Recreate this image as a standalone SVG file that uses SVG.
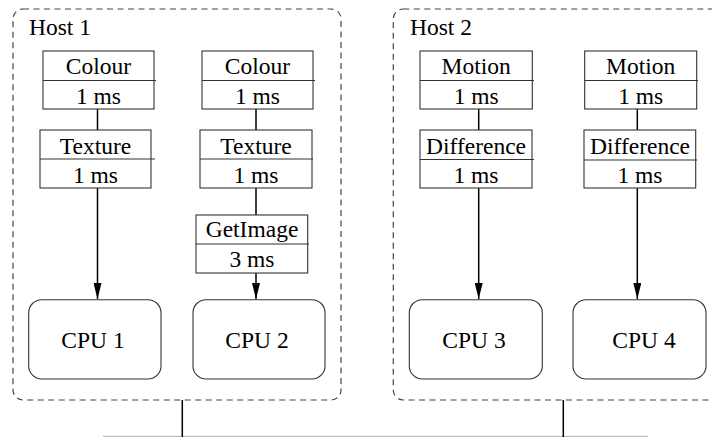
<svg xmlns="http://www.w3.org/2000/svg" width="712" height="437" viewBox="0 0 712 437">
<defs>
<style>
text{font-family:"Liberation Serif","Times New Roman",serif;font-size:23.5px;fill:#000;text-anchor:middle}
.host{fill:none;stroke:#444;stroke-width:1.2;stroke-dasharray:6 4.5}
.box{fill:#fff;stroke:#333;stroke-width:1.1}
.div{stroke:#333;stroke-width:1.1}
.cpu{fill:#fff;stroke:#333;stroke-width:1.1}
.conn{stroke:#000;stroke-width:1.5;fill:none}
.bus{stroke:#bbb;stroke-width:1.5}
</style>
<marker id="arr" markerWidth="16" markerHeight="8" refX="16" refY="4" orient="auto" markerUnits="userSpaceOnUse">
<path d="M0,0 L16,4 L0,8 Z" fill="#000"/>
</marker>
</defs>

<g id="host1">
<rect class="host" x="13" y="9" width="328" height="391" rx="10"/>
<text x="29" y="35" style="text-anchor:start">Host 1</text>
</g>
<g id="host2">
<rect class="host" x="393.3" y="9" width="360" height="391" rx="10"/>
<text x="410" y="35" style="text-anchor:start">Host 2</text>
</g>

<g id="connectors">
<line class="conn" x1="97.5" y1="109" x2="97.5" y2="130"/>
<line class="conn" x1="97.5" y1="188" x2="97.5" y2="299" marker-end="url(#arr)"/>
<line class="conn" x1="256" y1="109" x2="256" y2="130"/>
<line class="conn" x1="256" y1="188" x2="256" y2="215"/>
<line class="conn" x1="256" y1="273" x2="256" y2="299" marker-end="url(#arr)"/>
<line class="conn" x1="478.7" y1="109" x2="478.7" y2="130"/>
<line class="conn" x1="478.7" y1="188" x2="478.7" y2="299" marker-end="url(#arr)"/>
<line class="conn" x1="637.3" y1="109" x2="637.3" y2="130"/>
<line class="conn" x1="637.3" y1="188" x2="637.3" y2="299" marker-end="url(#arr)"/>
<line class="bus" x1="103" y1="436.5" x2="648" y2="436.5"/>
<line class="conn" x1="182.3" y1="400" x2="182.3" y2="437"/>
<line class="conn" x1="563.3" y1="400" x2="563.3" y2="437"/>
</g>

<g id="colour1">
<rect class="box" x="43" y="51" width="111" height="58"/>
<line class="div" x1="43" y1="80.5" x2="156" y2="80.5"/>
<text x="98.5" y="74">Colour</text>
<text x="98.5" y="103.5">1 ms</text>
</g>
<g id="texture1">
<rect class="box" x="40" y="130" width="111" height="58"/>
<line class="div" x1="40" y1="159" x2="155" y2="159"/>
<text x="95.5" y="153.5">Texture</text>
<text x="95.5" y="182.5">1 ms</text>
</g>
<g id="colour2">
<rect class="box" x="202" y="51" width="111" height="58"/>
<line class="div" x1="202" y1="80.5" x2="315" y2="80.5"/>
<text x="257.5" y="74">Colour</text>
<text x="257.5" y="103.5">1 ms</text>
</g>
<g id="texture2">
<rect class="box" x="200" y="130" width="112" height="58"/>
<line class="div" x1="200" y1="159" x2="313" y2="159"/>
<text x="256" y="153.5">Texture</text>
<text x="256" y="182.5">1 ms</text>
</g>
<g id="getimage">
<rect class="box" x="196" y="215" width="111.7" height="58"/>
<line class="div" x1="196" y1="244" x2="309" y2="244"/>
<text x="252" y="237">GetImage</text>
<text x="252" y="267">3 ms</text>
</g>
<g id="motion1">
<rect class="box" x="420" y="51" width="112.3" height="58"/>
<line class="div" x1="420" y1="80.5" x2="534" y2="80.5"/>
<text x="476.2" y="74">Motion</text>
<text x="476.2" y="103.5">1 ms</text>
</g>
<g id="difference1">
<rect class="box" x="420" y="130" width="112" height="58"/>
<line class="div" x1="420" y1="159.5" x2="534" y2="159.5"/>
<text x="476" y="153.5">Difference</text>
<text x="476" y="182.5">1 ms</text>
</g>
<g id="motion2">
<rect class="box" x="584.7" y="51" width="112" height="58"/>
<line class="div" x1="584.7" y1="80.5" x2="698" y2="80.5"/>
<text x="640.7" y="74">Motion</text>
<text x="640.7" y="103.5">1 ms</text>
</g>
<g id="difference2">
<rect class="box" x="584" y="130" width="111.7" height="58"/>
<line class="div" x1="584" y1="160" x2="697" y2="160"/>
<text x="640" y="153.5">Difference</text>
<text x="640" y="182.5">1 ms</text>
</g>

<g id="cpu1">
<rect class="cpu" x="28.7" y="299.7" width="132.3" height="79.3" rx="13"/>
<text x="93" y="347.7">CPU 1</text>
</g>
<g id="cpu2">
<rect class="cpu" x="193" y="299.7" width="132" height="79.3" rx="13"/>
<text x="257" y="347.7">CPU 2</text>
</g>
<g id="cpu3">
<rect class="cpu" x="409.3" y="299.7" width="133" height="79.3" rx="13"/>
<text x="474" y="347.7">CPU 3</text>
</g>
<g id="cpu4">
<rect class="cpu" x="573" y="299.7" width="133" height="79.3" rx="13"/>
<text x="644" y="347.7">CPU 4</text>
</g>
</svg>
